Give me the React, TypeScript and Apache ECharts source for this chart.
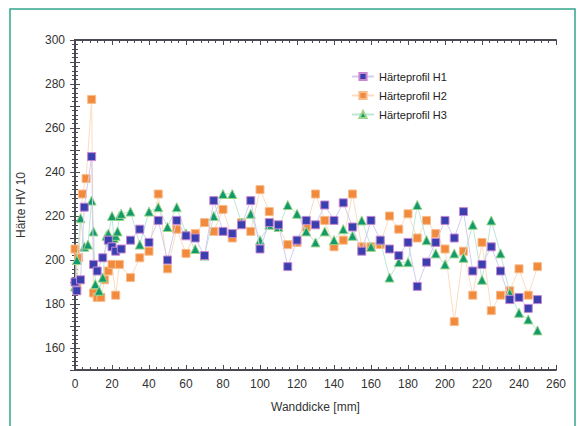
import React, { useEffect, useRef } from "react";
import * as echarts from "echarts";

const seriesNames = ["Härteprofil H1", "Härteprofil H2", "Härteprofil H3"];

const h1X = [0, 1, 3, 5, 9, 10, 12, 15, 18, 20, 22, 25, 30, 35, 40, 45, 50, 55, 60, 65, 70, 75, 80, 85, 90, 95, 100, 105, 110, 115, 120, 125, 130, 135, 140, 145, 150, 155, 160, 165, 170, 175, 180, 185, 190, 195, 200, 205, 210, 215, 220, 225, 230, 235, 240, 245, 250];
const h1Y = [190, 186, 191, 224, 247, 198, 195, 201, 209, 206, 204, 205, 209, 214, 208, 218, 200, 218, 211, 210, 202, 227, 213, 212, 216, 227, 205, 217, 216, 197, 209, 218, 216, 225, 218, 226, 215, 204, 218, 209, 205, 202, 208, 188, 199, 208, 218, 210, 222, 195, 198, 206, 195, 182, 183, 178, 182];

const h2X = [0, 1, 2, 4, 6, 9, 10, 12, 14, 16, 18, 20, 22, 24, 30, 35, 40, 45, 50, 55, 60, 65, 70, 75, 80, 85, 90, 95, 100, 105, 110, 115, 120, 125, 130, 135, 140, 145, 150, 155, 160, 165, 170, 175, 180, 185, 190, 195, 200, 205, 210, 215, 220, 225, 230, 235, 240, 245, 250];
const h2Y = [205, 188, 201, 230, 237, 273, 185, 183, 183, 191, 195, 198, 184, 198, 192, 201, 204, 230, 196, 214, 203, 212, 217, 213, 223, 210, 217, 213, 232, 222, 215, 207, 208, 215, 230, 218, 206, 209, 230, 206, 206, 207, 220, 214, 221, 210, 218, 212, 205, 172, 204, 184, 208, 177, 184, 186, 196, 184, 197];

const h3X = [0, 1, 3, 5, 7, 9, 10, 11, 13, 15, 17, 18, 20, 21, 22, 23, 24, 25, 30, 35, 40, 45, 50, 55, 60, 65, 70, 75, 80, 85, 90, 95, 100, 105, 110, 115, 120, 125, 130, 135, 140, 145, 150, 155, 160, 165, 170, 175, 180, 185, 190, 195, 200, 205, 210, 215, 220, 225, 230, 235, 240, 245, 250];
const h3Y = [188, 200, 219, 206, 207, 227, 213, 189, 186, 192, 211, 212, 220, 210, 211, 213, 220, 221, 222, 207, 222, 224, 215, 224, 212, 205, 202, 220, 230, 230, 217, 221, 209, 216, 215, 225, 221, 213, 208, 213, 209, 214, 211, 218, 206, 209, 192, 199, 199, 225, 209, 203, 198, 203, 201, 216, 191, 218, 203, 185, 176, 173, 168];

const yLabelValues = [160, 180, 200, 220, 240, 260, 280, 300];

const pair = (xs: number[], ys: number[]) => xs.map((x, i) => [x, ys[i]]);

const FONT = "Liberation Sans";

export default function App() {
  const ref = useRef<HTMLDivElement>(null);
  useEffect(() => {
    if (!ref.current) return;
    const chart = echarts.init(ref.current, null, { renderer: "svg" });
    const frameColor = "#4a4a52";
    const axisCommon = {
      axisLine: { show: true, lineStyle: { color: frameColor, width: 2 } },
      axisTick: { show: true, inside: true, length: 5, lineStyle: { color: frameColor, width: 1 } },
      minorTick: { show: true, splitNumber: 5, length: 3, lineStyle: { color: frameColor, width: 1 } },
      splitLine: { show: false },
    };
    chart.setOption({
      animation: false,
      backgroundColor: "#ffffff",
      textStyle: { fontFamily: FONT },
      grid: { left: 75, top: 40, right: 21, bottom: 56, containLabel: false },
      legend: {
        data: seriesNames,
        orient: "vertical",
        left: 346,
        top: 66,
        itemWidth: 22,
        itemHeight: 9,
        itemGap: 8,
        textStyle: { fontSize: 11, color: "#222", fontFamily: FONT },
      },
      xAxis: [
        {
          type: "value",
          min: 0,
          max: 260,
          interval: 20,
          ...axisCommon,
          axisLabel: { fontSize: 12, color: "#333", margin: 8, fontFamily: FONT },
          name: "Wanddicke [mm]",
          nameLocation: "middle",
          nameGap: 31,
          nameTextStyle: { fontSize: 12, color: "#333", fontFamily: FONT },
        },
        {
          type: "value",
          position: "top",
          min: 0,
          max: 260,
          interval: 20,
          ...axisCommon,
          axisLabel: { show: false },
        },
      ],
      yAxis: [
        {
          type: "value",
          min: 150,
          max: 300,
          interval: 10,
          ...axisCommon,
          axisLabel: {
            fontSize: 12,
            color: "#333",
            margin: 10,
            fontFamily: FONT,
            formatter: (v: number) => (yLabelValues.includes(v) ? String(v) : ""),
          },
          name: "Härte HV 10",
          nameLocation: "middle",
          nameGap: 48,
          nameTextStyle: { fontSize: 12, color: "#333", fontFamily: FONT },
        },
        {
          type: "value",
          position: "right",
          min: 150,
          max: 300,
          interval: 10,
          ...axisCommon,
          axisLabel: { show: false },
        },
      ],
      graphic: [
        {
          type: "rect",
          shape: { x: 10, y: 9, width: 565, height: 430 },
          style: { fill: "none", stroke: "#35a58c", lineWidth: 1.5 },
          silent: true,
        },
      ],
      series: [
        {
          name: seriesNames[1],
          type: "line",
          data: pair(h2X, h2Y),
          symbol: "rect",
          symbolSize: 8,
          itemStyle: { color: "#f28a3e", borderColor: "#f8bc8a", borderWidth: 1 },
          lineStyle: { color: "#fbdcc2", width: 1 },
          z: 2,
        },
        {
          name: seriesNames[2],
          type: "line",
          data: pair(h3X, h3Y),
          symbol: "triangle",
          symbolSize: 9,
          itemStyle: { color: "#129a6c", borderColor: "#9ad58a", borderWidth: 1 },
          lineStyle: { color: "#bde6d8", width: 1 },
          z: 3,
        },
        {
          name: seriesNames[0],
          type: "line",
          data: pair(h1X, h1Y),
          symbol: "rect",
          symbolSize: 8,
          itemStyle: { color: "#3a3fb0", borderColor: "#c888d0", borderWidth: 1 },
          lineStyle: { color: "#d4cbef", width: 1 },
          z: 4,
        },
      ],
    });
    return () => chart.dispose();
  }, []);
  return (
    <div
      ref={ref}
      style={{ position: "absolute", left: 0, top: 0, width: 577, height: 426 }}
    />
  );
}
